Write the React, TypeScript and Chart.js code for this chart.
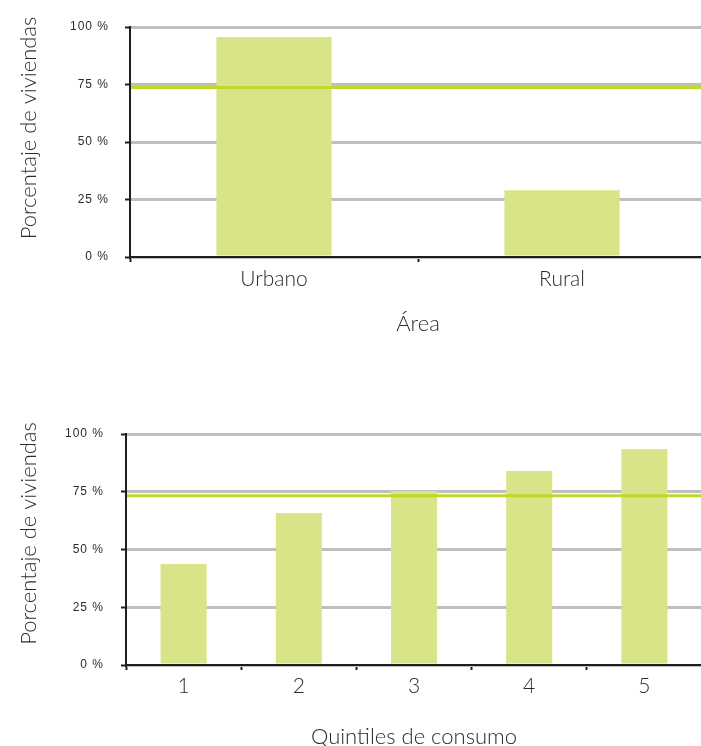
import React, { useEffect, useRef } from 'react';
import { Chart, registerables } from 'chart.js';

Chart.register(...registerables);

// ---- Data ----
const AREA_LABELS = ['Urbano', 'Rural'];
const AREA_VALUES = [95.7, 29.0];
const AREA_AVERAGE = 73.7;

const QUINTILE_LABELS = ['1', '2', '3', '4', '5'];
const QUINTILE_VALUES = [43.7, 65.8, 75.3, 84.0, 93.5];
const QUINTILE_AVERAGE = 73.3;

const Y_TICKS = [0, 25, 50, 75, 100];
const Y_SUFFIX = ' %';

const Y_TITLE = 'Porcentaje de viviendas';
const AREA_X_TITLE = 'Área';
const QUINTILE_X_TITLE = 'Quintiles de consumo';

// ---- Styles ----
const BAR_COLOR = '#d9e388';
const LINE_COLOR = '#c3d62b';
const AXIS_COLOR = '#1e1e1e';
const GRID_COLOR = '#bfbfbf';
const TEXT_COLOR = '#2b2b2b';
const TITLE_FONT = 'Lato';
const TITLE_WEIGHT = 300;
const TICK_FONT = '"Liberation Sans", Arial, sans-serif';

const yTitlePlugin = {
  id: 'yTitle',
  afterDraw(chart: any, _args: any, opts: any) {
    const { ctx, chartArea } = chart;
    ctx.save();
    ctx.translate(opts.x, (chartArea.top + chartArea.bottom) / 2 + opts.shift);
    ctx.rotate(-Math.PI / 2);
    ctx.font = `${TITLE_WEIGHT} ${opts.size}px ${TITLE_FONT}`;
    ctx.fillStyle = TEXT_COLOR;
    ctx.textAlign = 'center';
    ctx.textBaseline = 'middle';
    ctx.fillText(opts.text, 0, 0);
    ctx.restore();
  },
};

const tickSpacingPlugin = {
  id: 'tickSpacing',
  afterLayout(chart: any) {
    const s: any = chart.scales.y;
    if (s && !s.__spaced) {
      const orig = s.drawLabels.bind(s);
      s.drawLabels = (area: any) => {
        const ctx: any = chart.ctx;
        ctx.save();
        ctx.letterSpacing = '1px';
        orig(area);
        ctx.restore();
      };
      s.__spaced = true;
    }
  },
};

interface Cfg {
  labels: string[];
  values: number[];
  average: number;
  xTitle: string;
  yWidth: number;
  xHeight: number;
  padTop: number;
  padRight: number;
  xTitlePadBottom: number;
  xTickPad: number;
  yTickPad: number;
  yTitleX: number;
  yTitleShift: number;
}

function makeConfig(c: Cfg): any {
  return {
    type: 'bar',
    data: {
      labels: c.labels,
      datasets: [
        {
          type: 'line',
          data: [
            { x: 0, y: c.average },
            { x: 1, y: c.average },
          ],
          xAxisID: 'xLine',
          yAxisID: 'y',
          borderColor: LINE_COLOR,
          borderWidth: 3,
          pointRadius: 0,
          fill: false,
          order: 0,
        },
        {
          type: 'bar',
          data: c.values,
          xAxisID: 'x',
          yAxisID: 'y',
          backgroundColor: BAR_COLOR,
          borderWidth: 0,
          grouped: false,
          categoryPercentage: 1,
          barPercentage: 0.4,
          order: 1,
        },
      ],
    },
    options: {
      responsive: false,
      animation: false,
      devicePixelRatio: 1,
      layout: { padding: { top: c.padTop, right: c.padRight, left: 0, bottom: 0 } },
      plugins: {
        legend: { display: false },
        tooltip: { enabled: false },
        yTitle: { text: Y_TITLE, x: c.yTitleX, shift: c.yTitleShift, size: 22 },
      },
      scales: {
        xLine: { type: 'linear', display: false, offset: false, min: 0, max: 1 },
        x: {
          type: 'category',
          offset: true,
          grid: {
            display: true,
            offset: true,
            drawOnChartArea: false,
            drawTicks: true,
            tickLength: 5,
            tickColor: AXIS_COLOR,
            tickWidth: 2,
          },
          border: { display: true, color: AXIS_COLOR, width: 2, z: 1 },
          ticks: {
            color: TEXT_COLOR,
            font: { family: TITLE_FONT, size: 21, weight: TITLE_WEIGHT },
            padding: c.xTickPad,
            maxRotation: 0,
          },
          title: {
            display: true,
            text: c.xTitle,
            color: TEXT_COLOR,
            font: { family: TITLE_FONT, size: 22, weight: TITLE_WEIGHT },
            padding: { top: 0, bottom: c.xTitlePadBottom },
          },
          afterFit: (s: any) => {
            s.height = c.xHeight;
          },
        },
        y: {
          min: 0,
          max: 100,
          afterBuildTicks: (s: any) => {
            s.ticks = Y_TICKS.map((v) => ({ value: v }));
          },
          grid: {
            color: GRID_COLOR,
            lineWidth: 3,
            borderDash: [5, 1.5],
            drawTicks: true,
            tickLength: 5,
            tickColor: AXIS_COLOR,
            tickWidth: 2,
          },
          border: { display: true, color: AXIS_COLOR, width: 2, z: 1 },
          ticks: {
            color: TEXT_COLOR,
            font: { family: TICK_FONT, size: 12 },
            padding: c.yTickPad,
            callback: (v: any) => `${v}${Y_SUFFIX}`,
          },
          afterFit: (s: any) => {
            s.width = c.yWidth;
          },
        },
      },
    },
    plugins: [yTitlePlugin, tickSpacingPlugin],
  };
}

function BarChart(props: { cfg: Cfg; width: number; height: number; top: number }) {
  const ref = useRef<HTMLCanvasElement | null>(null);
  useEffect(() => {
    if (!ref.current) return;
    const chart = new Chart(ref.current, makeConfig(props.cfg));
    return () => chart.destroy();
  }, []);
  return (
    <canvas
      ref={ref}
      width={props.width}
      height={props.height}
      style={{
        position: 'absolute',
        left: 0,
        top: props.top,
        width: props.width,
        height: props.height,
      }}
    />
  );
}

export default function App() {
  const areaCfg: Cfg = {
    labels: AREA_LABELS,
    values: AREA_VALUES,
    average: AREA_AVERAGE,
    xTitle: AREA_X_TITLE,
    yWidth: 130,
    xHeight: 93,
    padTop: 27,
    padRight: 2,
    xTitlePadBottom: 13,
    xTickPad: 5,
    yTickPad: 16,
    yTitleX: 29,
    yTitleShift: -14,
  };
  const quintCfg: Cfg = {
    labels: QUINTILE_LABELS,
    values: QUINTILE_VALUES,
    average: QUINTILE_AVERAGE,
    xTitle: QUINTILE_X_TITLE,
    yWidth: 126,
    xHeight: 95,
    padTop: 54,
    padRight: 1,
    xTitlePadBottom: 10,
    xTickPad: 4,
    yTickPad: 17,
    yTitleX: 29,
    yTitleShift: -16,
  };
  return (
    <div
      style={{
        position: 'fixed',
        left: 0,
        top: 0,
        width: 701,
        height: 746,
        overflow: 'hidden',
        background: '#ffffff',
      }}
    >
      <BarChart cfg={areaCfg} width={708} height={350} top={0} />
      <BarChart cfg={quintCfg} width={703} height={380} top={380} />
    </div>
  );
}
